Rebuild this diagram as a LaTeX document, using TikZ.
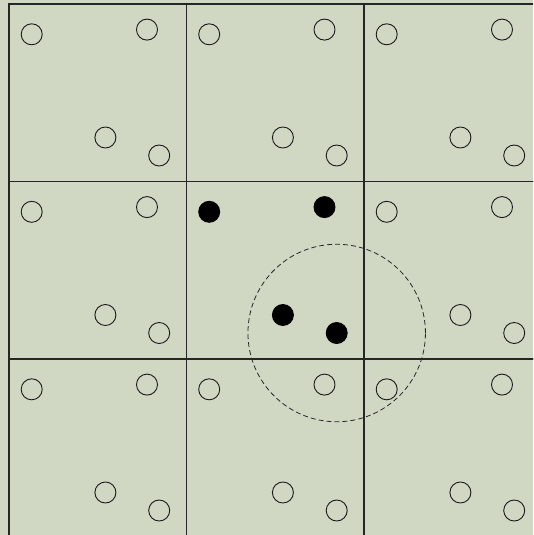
\documentclass[tikz,border=0pt]{standalone}
\definecolor{bgc}{RGB}{208,216,196}
\begin{document}
\begin{tikzpicture}[x=1pt,y=-1pt,
  gridline/.style={line width=1.2pt,draw=black!85},
  emptypt/.style={circle,draw=black!90,line width=0.9pt,minimum size=21pt,inner sep=0pt},
  fullpt/.style={circle,fill=black,draw=black,line width=0.9pt,minimum size=21pt,inner sep=0pt},
  rangecirc/.style={circle,draw=black!85,line width=0.8pt,dash pattern=on 5pt off 3pt,minimum size=177.5pt,inner sep=0pt}]
\useasboundingbox (0,0) rectangle (533,535);
\fill[bgc] (0,0) rectangle (533,535);
\begin{scope}
\clip (0,0) rectangle (533,535);
\foreach \i in {0,1,2} {
  \foreach \j in {0,1,2} {
    \pgfmathsetmacro{\ox}{9+177.5*\i}
    \pgfmathsetmacro{\oy}{4+177.5*\j}
    \draw[gridline] (\ox,\oy) rectangle ++(177.5,177.5);
    \ifnum\i=1 \ifnum\j=1
      \def\st{fullpt}
    \else \def\st{emptypt}\fi
    \else \def\st{emptypt}\fi
    \node[\st] (p\i\j a) at (\ox+22.7,\oy+30.3) {};
    \node[\st] (p\i\j b) at (\ox+138,\oy+25.6) {};
    \node[\st] (p\i\j c) at (\ox+96.4,\oy+133.5) {};
    \node[\st] (p\i\j d) at (\ox+150.2,\oy+151.5) {};
  }
}
\node[rangecirc] (range) at (p11d.center) {};
\end{scope}
\end{tikzpicture}
\end{document}
